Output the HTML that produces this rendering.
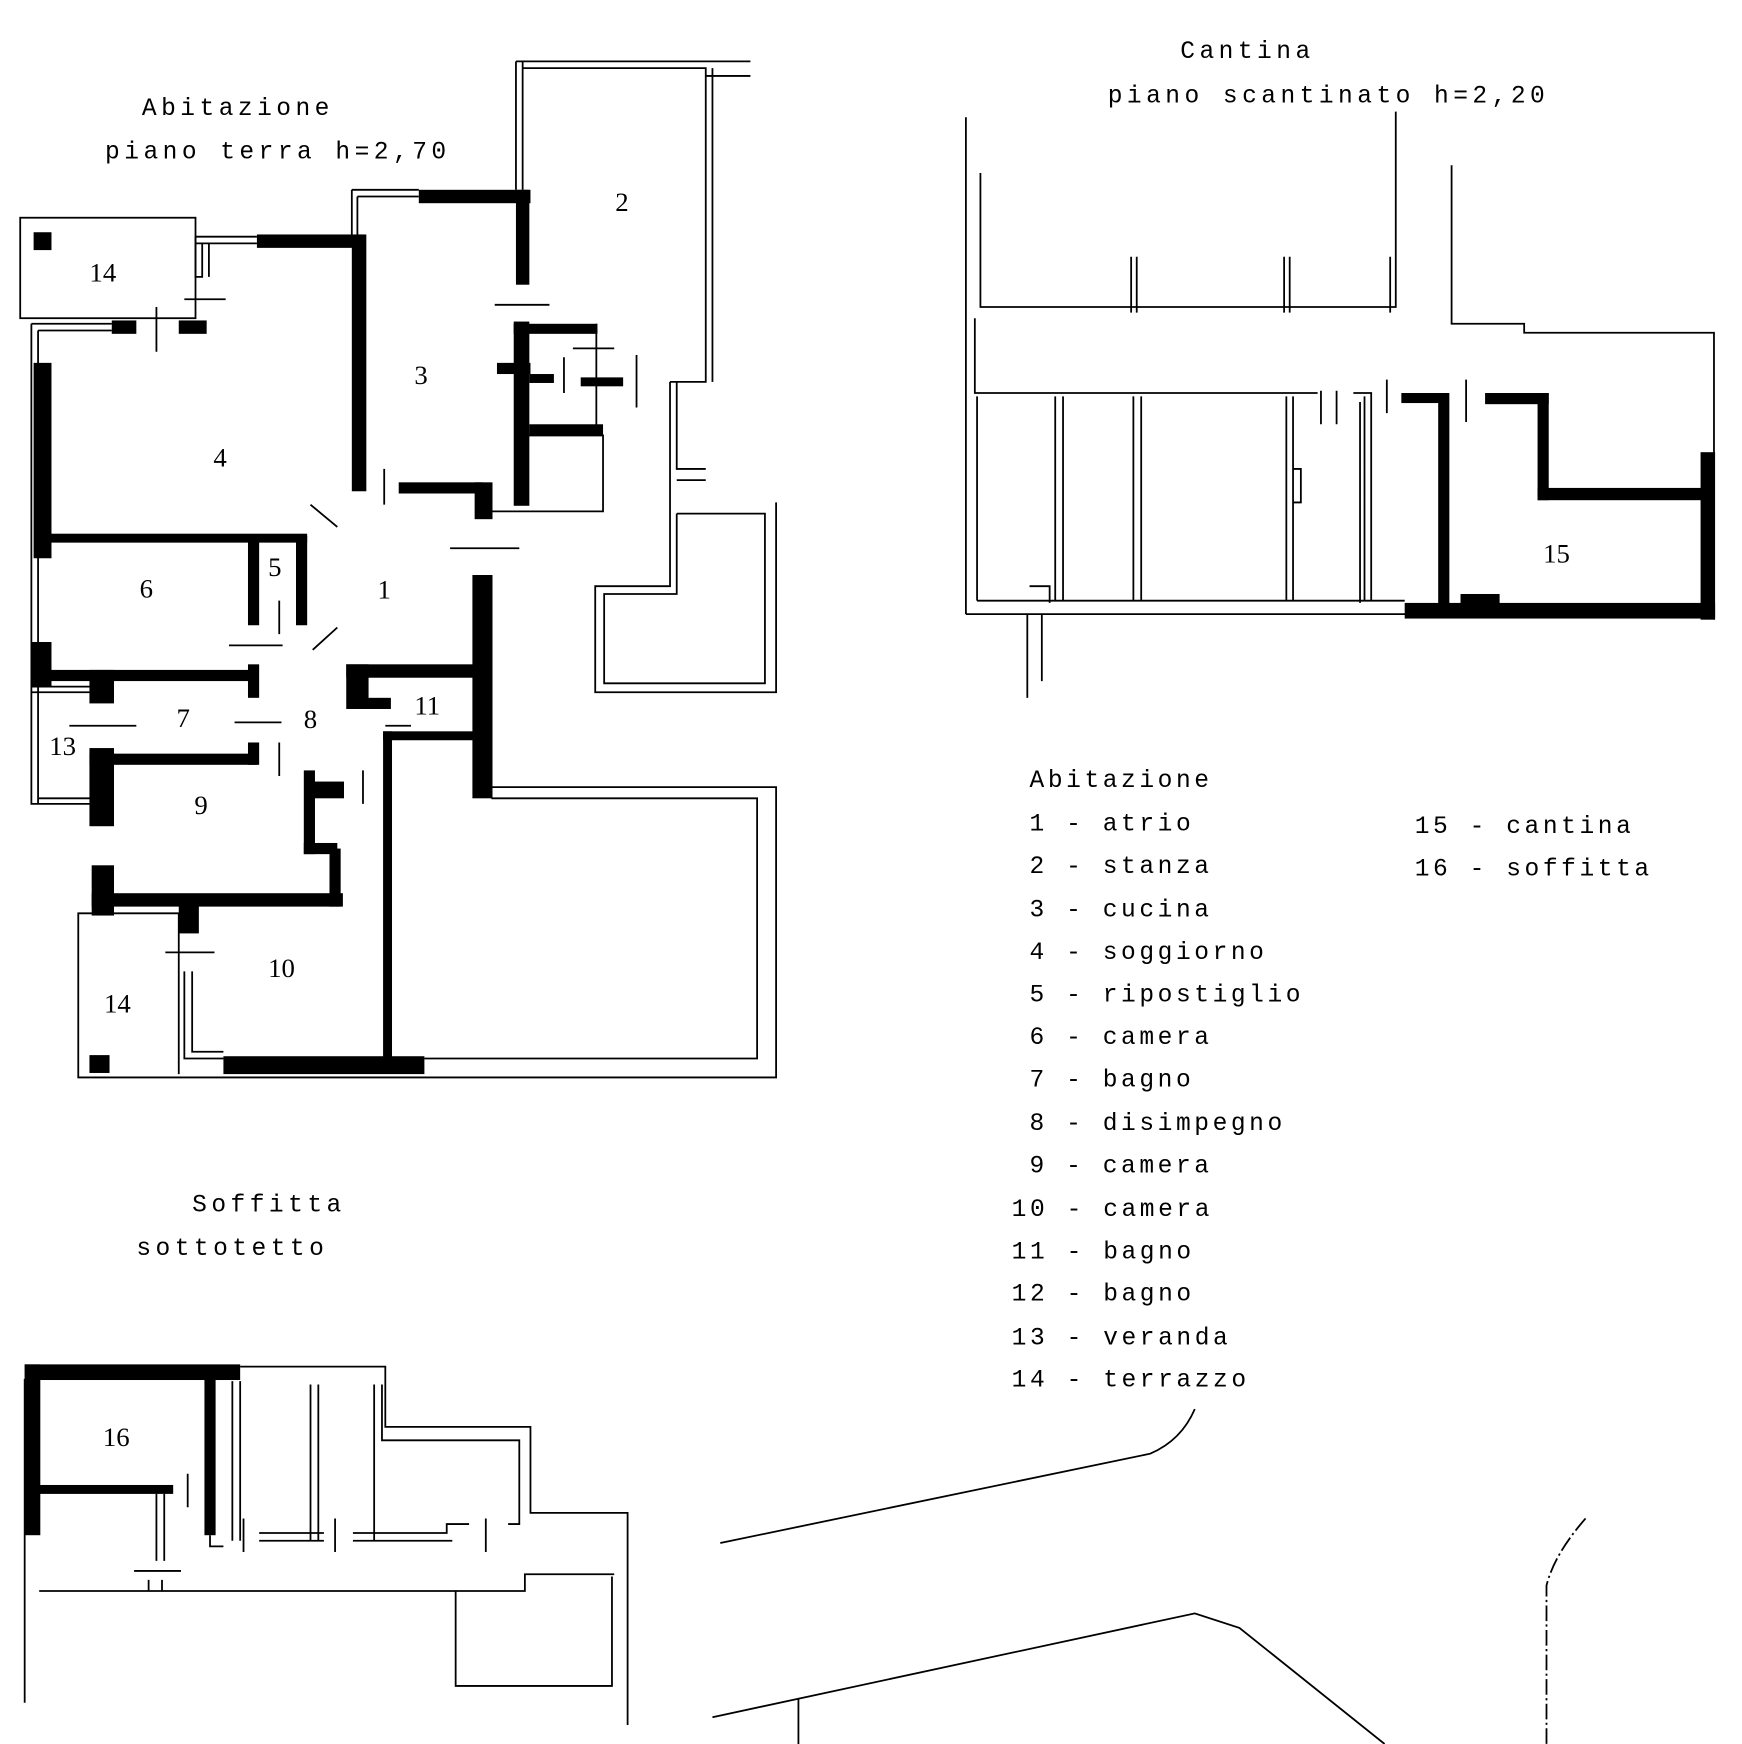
<!DOCTYPE html>
<html><head><meta charset="utf-8"><style>
html,body{margin:0;padding:0;background:#fff}
svg{display:block}
text{font-family:"Liberation Mono",monospace;fill:#000}
.h{letter-spacing:4px}
.l{letter-spacing:3.2px}
</style></head><body>
<svg width="1742" height="1744" viewBox="0 0 1560 1562" xmlns="http://www.w3.org/2000/svg">
<g fill="none" stroke="#000" stroke-width="1.6">
<rect x="18" y="195" width="157" height="90"/>
<path d="M175 212 H230 M175 218 H230 M175 212 V248 H181 V218 M187 218 V248"/>
<path d="M28 290 H100 M34 296 H100 M28 290 V720 H82 M34 296 V720 M34 715 H82"/>
<path d="M315 170 H375 M320 176 H375 M315 170 V210 M320 176 V210"/>
<path d="M462 55 V170 M468 55 V170 M462 55 H672 M468 61 H632 V342 H600 M638 61 V342 M632 68 H672"/>
<path d="M600 342 V525 H533 V620 H695 V450 M606 342 V420 H632 M606 430 H632 M606 460 H685 V612 H541 V532 H606 V460"/>
<path d="M430 705 H695 V965 H70 V818 H160 V962 M440 715 H678 V948 H380"/>
<path d="M165 870 V948 H200 M172 870 V942 H200"/>
<path d="M472 390 H540 V458 H440 M534 290 V390"/>
<path d="M28 620 H82 M28 615 H82"/>
<path d="M165 268 H202 M140 275 V315 M443 273 H492 M403 491 H465 M205 578 H253 M250 538 V568 M62 650 H122 M210 647 H252 M250 665 V695 M148 853 H192 M344 420 V452 M345 650 H368 M325 690 V720 M505 320 V352 M513 312 H550 M570 318 V365 M278 452 L302 472 M280 582 L302 562"/>
<path d="M865 105 V550 M878 155 V275 H1250 V100 M1300 148 V290 H1365 V298 H1535 V555 M873 285 V352 H1180 M875 355 V538 M945 355 V538 M952 355 V538 M1015 355 V538 M1022 355 V538 M1152 355 V538 M1158 355 V538 M1222 355 V538 M1228 355 V538 M865 550 H1260 M875 538 H1258 M1013 230 V280 M1018 230 V280 M1150 230 V280 M1155 230 V280 M1245 230 V280 M920 550 V625 M933 550 V610 M922 525 H940 V540 M1158 420 H1165 V450 H1158 M1183 350 V380 M1197 350 V380 M1212 352 H1228 V360 M1242 340 V370 M1313 340 V378 M1218 360 V540"/>
<path d="M215 1224 H345 V1278 H475 V1355 H562 V1545 M22 1235 V1525 M35 1425 H470 V1410 H550 M408 1425 V1510 H548 V1412 M208 1237 V1380 M215 1237 V1380 M278 1240 V1380 M285 1240 V1380 M335 1240 V1380 M342 1240 V1290 H465 V1365 H455 M232 1380 H290 M232 1373 H290 M316 1380 H405 M316 1373 H400 V1365 H420 M140 1338 V1398 M147 1338 V1398 M120 1407 H162 M133 1415 V1425 M145 1415 V1425 M168 1320 V1350 M218 1360 V1390 M300 1360 V1390 M435 1360 V1390 M188 1375 V1385 H200"/>
<path d="M645 1382 L1030 1302 Q1058 1290 1070 1262"/>
<path d="M638 1538 L1070 1445 L1110 1458 L1240 1562"/>
<path d="M715 1522 V1562"/>
<path d="M1420 1360 Q1392 1392 1385 1420 V1562" stroke-dasharray="14 3 2 3"/>
</g>
<g fill="#000">
<rect x="30" y="208" width="16" height="16"/>
<rect x="80" y="945" width="18" height="16"/>
<rect x="30" y="325" width="16" height="175"/>
<rect x="28" y="575" width="18" height="40"/>
<rect x="100" y="287" width="22" height="12"/>
<rect x="160" y="287" width="25" height="12"/>
<rect x="230" y="210" width="95" height="12"/>
<rect x="315" y="210" width="13" height="230"/>
<rect x="375" y="170" width="100" height="12"/>
<rect x="462" y="170" width="12" height="85"/>
<rect x="460" y="288" width="14" height="165"/>
<rect x="460" y="290" width="75" height="9"/>
<rect x="445" y="325" width="30" height="10"/>
<rect x="474" y="335" width="22" height="8"/>
<rect x="474" y="380" width="66" height="10"/>
<rect x="520" y="338" width="38" height="8"/>
<rect x="357" y="432" width="75" height="10"/>
<rect x="425" y="432" width="16" height="33"/>
<rect x="423" y="515" width="18" height="200"/>
<rect x="45" y="478" width="230" height="8"/>
<rect x="222" y="480" width="10" height="80"/>
<rect x="265" y="480" width="10" height="80"/>
<rect x="28" y="600" width="200" height="10"/>
<rect x="222" y="595" width="10" height="30"/>
<rect x="80" y="600" width="22" height="30"/>
<rect x="310" y="595" width="115" height="12"/>
<rect x="310" y="595" width="20" height="40"/>
<rect x="325" y="625" width="25" height="10"/>
<rect x="343" y="655" width="85" height="8"/>
<rect x="343" y="655" width="8" height="295"/>
<rect x="80" y="670" width="22" height="70"/>
<rect x="80" y="675" width="150" height="10"/>
<rect x="222" y="665" width="10" height="20"/>
<rect x="82" y="775" width="20" height="45"/>
<rect x="82" y="800" width="225" height="12"/>
<rect x="295" y="760" width="10" height="52"/>
<rect x="272" y="690" width="10" height="75"/>
<rect x="272" y="755" width="30" height="10"/>
<rect x="280" y="700" width="28" height="15"/>
<rect x="160" y="808" width="18" height="28"/>
<rect x="200" y="946" width="180" height="16"/>
<rect x="1255" y="352" width="42" height="9"/>
<rect x="1288" y="352" width="10" height="190"/>
<rect x="1330" y="352" width="57" height="10"/>
<rect x="1377" y="352" width="10" height="96"/>
<rect x="1377" y="437" width="150" height="11"/>
<rect x="1523" y="405" width="13" height="150"/>
<rect x="1258" y="540" width="278" height="14"/>
<rect x="1308" y="532" width="35" height="10"/>
<rect x="22" y="1222" width="193" height="14"/>
<rect x="22" y="1222" width="14" height="153"/>
<rect x="35" y="1330" width="120" height="8"/>
<rect x="183" y="1230" width="10" height="145"/>
</g>
<g font-size="22">
<text class="h" x="127" y="103">Abitazione</text>
<text class="h" x="94" y="142">piano terra h=2,70</text>
<text class="h" x="1057" y="52">Cantina</text>
<text class="h" x="992" y="92">piano scantinato h=2,20</text>
<text class="h" x="172" y="1085">Soffitta</text>
<text class="h" x="122" y="1124">sottotetto</text>
<text class="l" x="922" y="705">Abitazione</text>
<text class="l" x="922" y="744">1 - atrio</text>
<text class="l" x="922" y="782">2 - stanza</text>
<text class="l" x="922" y="821">3 - cucina</text>
<text class="l" x="922" y="859">4 - soggiorno</text>
<text class="l" x="922" y="897">5 - ripostiglio</text>
<text class="l" x="922" y="935">6 - camera</text>
<text class="l" x="922" y="973">7 - bagno</text>
<text class="l" x="922" y="1012">8 - disimpegno</text>
<text class="l" x="922" y="1050">9 - camera</text>
<text class="l" x="906" y="1089">10 - camera</text>
<text class="l" x="906" y="1127">11 - bagno</text>
<text class="l" x="906" y="1165">12 - bagno</text>
<text class="l" x="906" y="1204">13 - veranda</text>
<text class="l" x="906" y="1242">14 - terrazzo</text>
<text class="l" x="1267" y="746">15 - cantina</text>
<text class="l" x="1267" y="784">16 - soffitta</text>
</g>
<g font-size="24">
<text x="80" y="252" style="font-family:'Liberation Serif',serif">14</text>
<text x="551" y="189" style="font-family:'Liberation Serif',serif">2</text>
<text x="371" y="344" style="font-family:'Liberation Serif',serif">3</text>
<text x="191" y="418" style="font-family:'Liberation Serif',serif">4</text>
<text x="240" y="516" style="font-family:'Liberation Serif',serif">5</text>
<text x="125" y="535" style="font-family:'Liberation Serif',serif">6</text>
<text x="338" y="536" style="font-family:'Liberation Serif',serif">1</text>
<text x="158" y="651" style="font-family:'Liberation Serif',serif">7</text>
<text x="272" y="652" style="font-family:'Liberation Serif',serif">8</text>
<text x="371" y="640" style="font-family:'Liberation Serif',serif">11</text>
<text x="44" y="676" style="font-family:'Liberation Serif',serif">13</text>
<text x="174" y="729" style="font-family:'Liberation Serif',serif">9</text>
<text x="240" y="875" style="font-family:'Liberation Serif',serif">10</text>
<text x="93" y="907" style="font-family:'Liberation Serif',serif">14</text>
<text x="1382" y="504" style="font-family:'Liberation Serif',serif">15</text>
<text x="92" y="1295" style="font-family:'Liberation Serif',serif">16</text>
</g>
</svg>
</body></html>
